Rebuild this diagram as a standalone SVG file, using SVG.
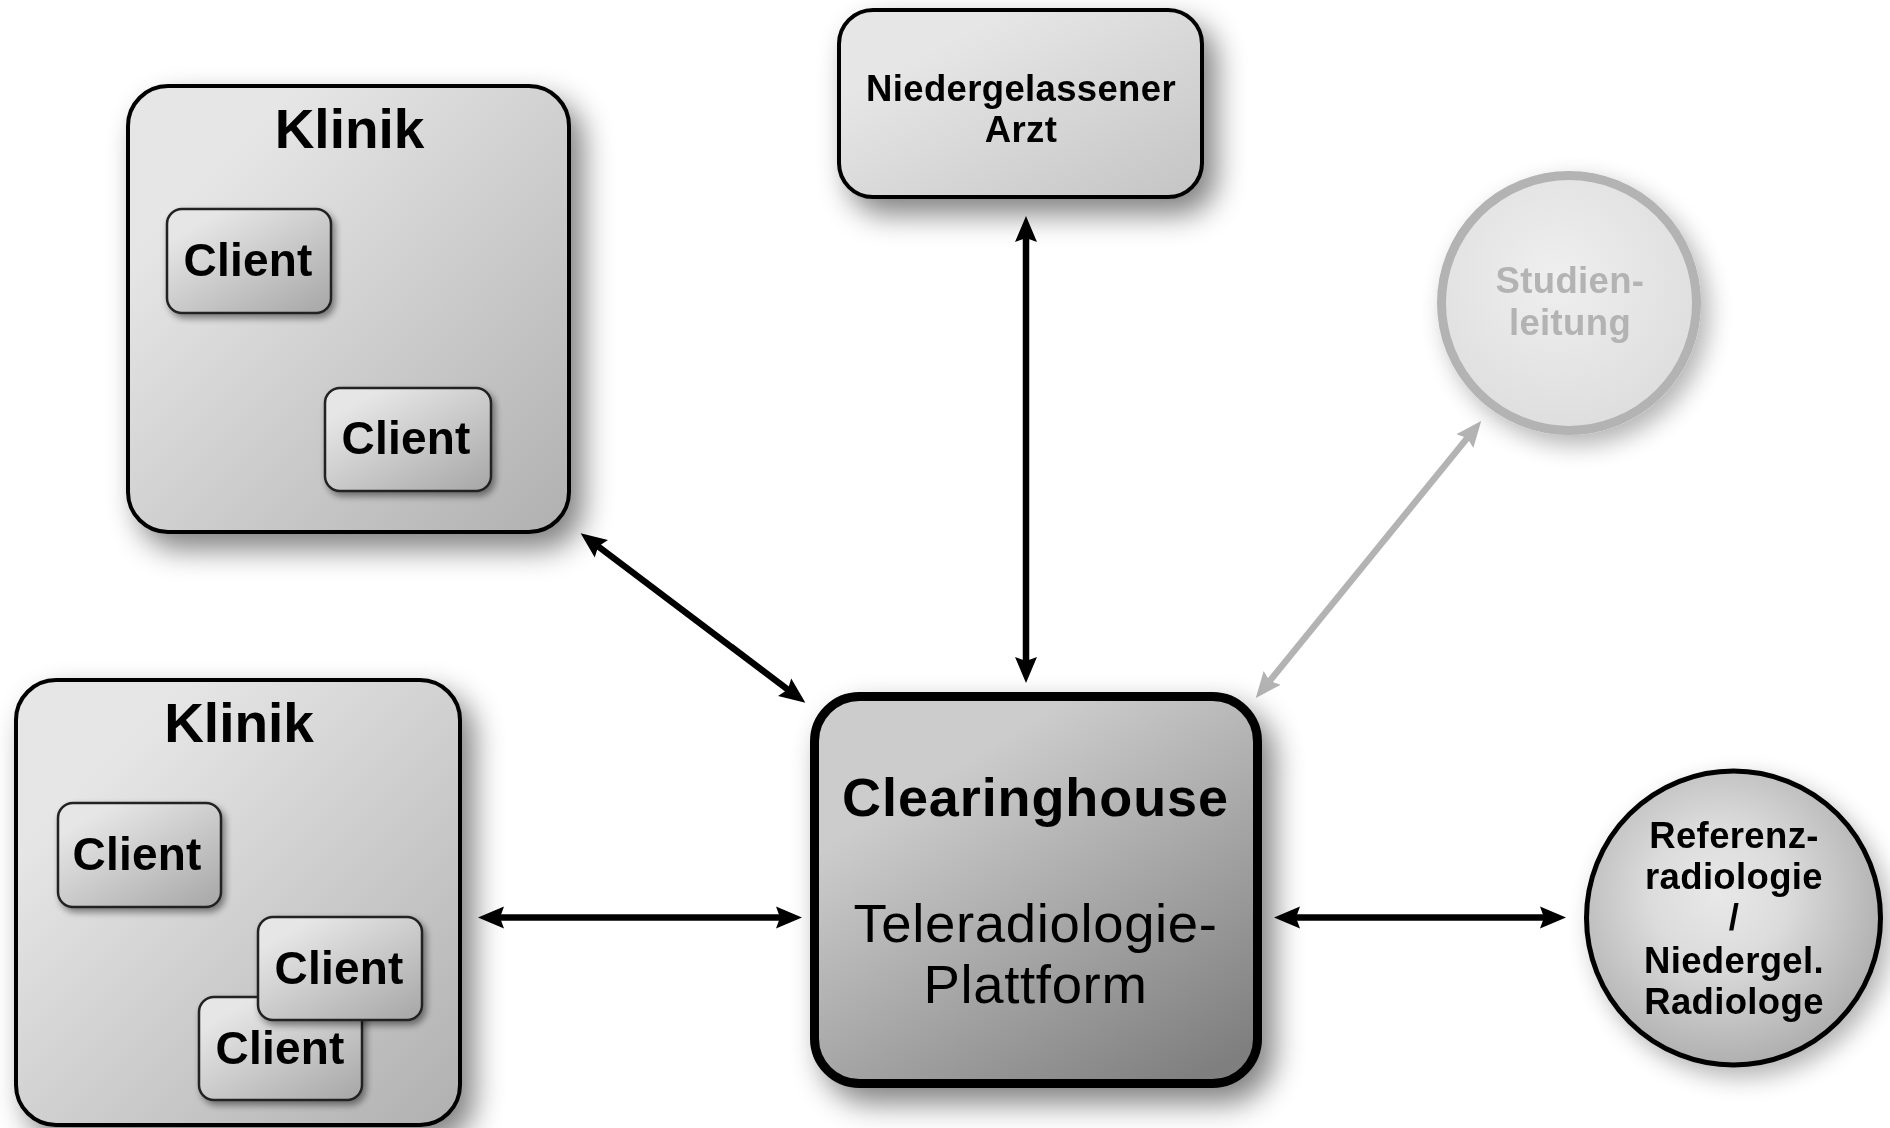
<svg xmlns="http://www.w3.org/2000/svg" width="1890" height="1128" viewBox="0 0 1890 1128">
<defs>
<linearGradient id="g" x1="0.1" y1="0.1" x2="1" y2="1"><stop offset="0.1" stop-color="#e6e6e6"/><stop offset="1" stop-color="#b0b0b0"/></linearGradient>
<linearGradient id="gl" x1="0.1" y1="0.1" x2="1" y2="1"><stop offset="0.15" stop-color="#e6e6e6"/><stop offset="1" stop-color="#c4c4c4"/></linearGradient>
<linearGradient id="gt" x1="0.1" y1="0.05" x2="0.95" y2="1"><stop offset="0.1" stop-color="#e6e6e6"/><stop offset="1" stop-color="#a8a8a8"/></linearGradient>
<linearGradient id="gc" x1="0.15" y1="0" x2="0.85" y2="1"><stop offset="0.2" stop-color="#cccccc"/><stop offset="1" stop-color="#7f7f7f"/></linearGradient>
<radialGradient id="gr" cx="0.45" cy="0.42" r="0.66"><stop offset="0" stop-color="#e8e8e8"/><stop offset="0.35" stop-color="#dcdcdc"/><stop offset="1" stop-color="#a6a6a6"/></radialGradient>
<radialGradient id="gs" cx="0.45" cy="0.4" r="0.6"><stop offset="0" stop-color="#efefef"/><stop offset="1" stop-color="#dedede"/></radialGradient>
<filter id="soft" x="0" y="0" width="100%" height="100%" filterUnits="userSpaceOnUse" primitiveUnits="userSpaceOnUse"><feGaussianBlur stdDeviation="0.7"/></filter>
<filter id="sh" x="-20%" y="-20%" width="150%" height="150%"><feGaussianBlur in="SourceAlpha" stdDeviation="15"/><feOffset dx="12" dy="15"/><feComponentTransfer><feFuncA type="linear" slope="0.5"/></feComponentTransfer><feMerge><feMergeNode/><feMergeNode in="SourceGraphic"/></feMerge></filter>
<filter id="shs" x="-20%" y="-20%" width="150%" height="150%"><feGaussianBlur in="SourceAlpha" stdDeviation="3.5"/><feOffset dx="3" dy="4"/><feComponentTransfer><feFuncA type="linear" slope="0.45"/></feComponentTransfer><feMerge><feMergeNode/><feMergeNode in="SourceGraphic"/></feMerge></filter>
<filter id="shl" x="-20%" y="-20%" width="150%" height="150%"><feGaussianBlur in="SourceAlpha" stdDeviation="12"/><feOffset dx="8" dy="10"/><feComponentTransfer><feFuncA type="linear" slope="0.3"/></feComponentTransfer><feMerge><feMergeNode/><feMergeNode in="SourceGraphic"/></feMerge></filter>
<marker id="a" viewBox="0 0 26 24" refX="13" refY="12" markerWidth="26" markerHeight="24" markerUnits="userSpaceOnUse" orient="auto-start-reverse"><path d="M26,12 L0,1 L4,12 L0,23 Z" fill="#000"/></marker>
<marker id="ag" viewBox="0 0 26 24" refX="13" refY="12" markerWidth="26" markerHeight="24" markerUnits="userSpaceOnUse" orient="auto-start-reverse"><path d="M26,12 L0,1 L4,12 L0,23 Z" fill="#b3b3b3"/></marker>
</defs>
<style>
text{font-family:"Liberation Sans",Arial,sans-serif;font-weight:700;text-anchor:middle;fill:#000}
.box{fill:url(#g);stroke:#000;stroke-width:4}
.cl{fill:url(#gt);stroke:#222;stroke-width:2.5;filter:url(#shs)}
.t-k{font-size:55px}
.t-c{font-size:46px;letter-spacing:.2px}
.t-m{font-size:36.5px;letter-spacing:.35px}
.c{fill:none;stroke:#000;stroke-width:6.5;marker-start:url(#a);marker-end:url(#a)}
.cg{fill:none;stroke:#b3b3b3;stroke-width:6.5;marker-start:url(#ag);marker-end:url(#ag)}
</style>
<rect width="1890" height="1128" fill="#fff"/>
<g id="diagram" filter="url(#soft)">
<g id="connectors">
<line class="c" x1="1026" y1="229" x2="1026" y2="670"/>
<line class="c" x1="491" y1="917.5" x2="789" y2="917.5"/>
<line class="c" x1="1287" y1="917.5" x2="1553" y2="917.5"/>
<line class="c" x1="591" y1="541" x2="795" y2="695"/>
<line class="cg" x1="1473" y1="431" x2="1264" y2="688"/>
</g>
<g id="klinik-top">
<rect class="box" style="filter:url(#sh)" x="128" y="86" width="441" height="446" rx="40"/>
<text class="t-k" x="349.5" y="147.5">Klinik</text>
</g>
<g id="client-top-1">
<rect class="cl" x="167" y="209" width="164" height="104" rx="15"/>
<text class="t-c" x="248" y="275.5">Client</text>
</g>
<g id="client-top-2">
<rect class="cl" x="325" y="388" width="166" height="103" rx="15"/>
<text class="t-c" x="406" y="453.5">Client</text>
</g>
<g id="klinik-bottom">
<rect class="box" style="filter:url(#sh)" x="16" y="680" width="444" height="445" rx="40"/>
<text class="t-k" x="239" y="741.5">Klinik</text>
</g>
<g id="client-bottom-1">
<rect class="cl" x="58" y="803" width="163" height="104" rx="15"/>
<text class="t-c" x="137" y="869.5">Client</text>
</g>
<g id="client-bottom-3">
<rect class="cl" x="199" y="997" width="163" height="103" rx="15"/>
<text class="t-c" x="280" y="1063.5">Client</text>
</g>
<g id="client-bottom-2">
<rect class="cl" x="258" y="917" width="164" height="103" rx="15"/>
<text class="t-c" x="339" y="984">Client</text>
</g>
<g id="arzt">
<rect class="box" style="filter:url(#sh);fill:url(#gl)" x="839" y="10" width="363" height="187" rx="34"/>
<text class="t-m" x="1021" y="101">Niedergelassener</text>
<text class="t-m" x="1021" y="142">Arzt</text>
</g>
<g id="studienleitung">
<circle cx="1569" cy="303" r="127.5" fill="url(#gs)" stroke="#b3b3b3" stroke-width="9" filter="url(#shl)"/>
<text class="t-m" x="1570" y="293" style="fill:#b3b3b3">Studien-</text>
<text class="t-m" x="1570" y="334.5" style="fill:#b3b3b3">leitung</text>
</g>
<g id="clearinghouse">
<rect x="814.5" y="696.5" width="443" height="387" rx="45" fill="url(#gc)" stroke="#000" stroke-width="9" filter="url(#sh)"/>
<text x="1035.5" y="816" font-size="54" style="letter-spacing:.9px">Clearinghouse</text>
<text x="1035.5" y="942" font-size="54.5" style="font-weight:400;letter-spacing:.65px">Teleradiologie-</text>
<text x="1035.5" y="1003" font-size="54.5" style="font-weight:400;letter-spacing:.65px">Plattform</text>
</g>
<g id="referenz">
<circle cx="1733.5" cy="918" r="147" fill="url(#gr)" stroke="#000" stroke-width="5" filter="url(#shl)"/>
<text class="t-m" x="1734" y="847.5">Referenz-</text>
<text class="t-m" x="1734" y="888.5">radiologie</text>
<text class="t-m" x="1734" y="930">/</text>
<text class="t-m" x="1734" y="972.5">Niedergel.</text>
<text class="t-m" x="1734" y="1013.5">Radiologe</text>
</g>
</g>
</svg>
